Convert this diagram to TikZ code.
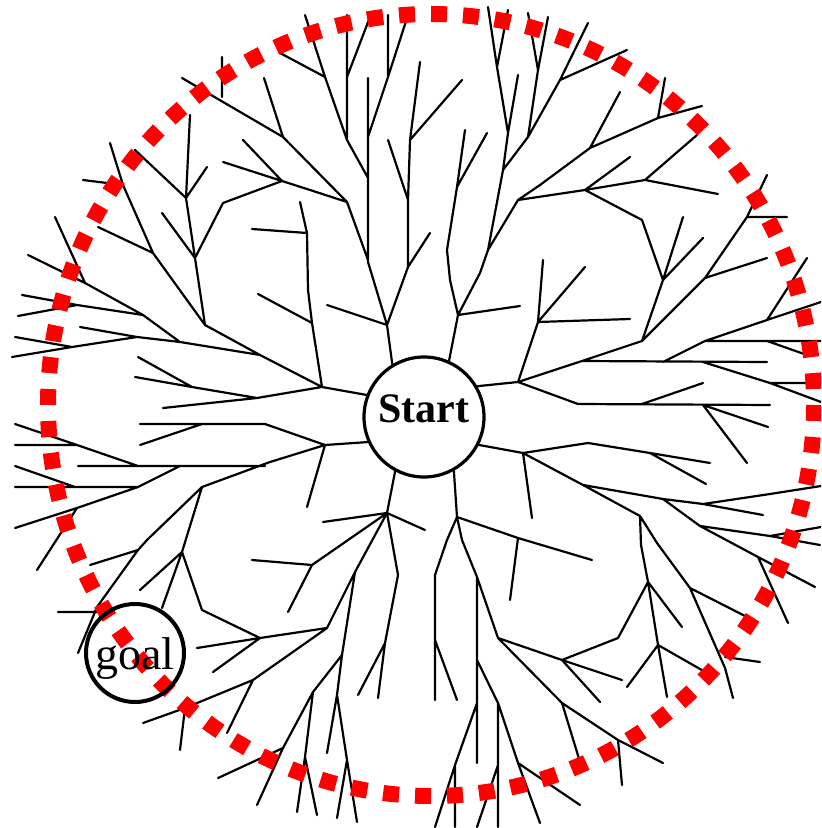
\documentclass[tikz,border=0pt]{standalone}
\usepackage{fontspec}
\setmainfont{Liberation Serif}

\begin{document}
\begin{tikzpicture}[x=0.5pt, y=-0.5pt,
  branch/.style={line width=1.1pt, line cap=round, line join=round},
  startnode/.style={circle, draw, line width=1.6pt, fill=white, minimum size=60pt,
                    inner sep=0pt, font=\fontsize{21pt}{21pt}\selectfont\bfseries},
  goalnode/.style={circle, draw, line width=2pt, minimum size=49pt,
                   inner sep=0pt, font=\fontsize{23pt}{23pt}\selectfont},
  bound/.style={red, line width=8pt, dash pattern=on 8pt off 8pt}
]
  \useasboundingbox (0,0) rectangle (821,828);
  \clip (0,0) rectangle (821,828);

  \node[startnode] (start) at (424,417) {\raisebox{4pt}[\height][\depth]{Start}};

  % upper left
  \draw[branch] (start.121) -- (387,325) -- (368,262) -- (368,78)
    (387,325) -- (327,305)
    (387,325) -- (408,267) -- (408,200) -- (410,140) -- (420,62)
    (408,267) -- (430,233)
    (410,140) -- (462,80)
    (388,140) -- (408,200)
    (368,137) -- (388,77) -- (388,15)
    (388,77) -- (408,15)
    (368,178) -- (347,140) -- (347,15)
    (347,77) -- (370,17)
    (347,140) -- (325,77) -- (305,15)
    (325,77) -- (280,53)
    (368,260) -- (347,202) -- (310,190) -- (282,181) -- (223,203) -- (195,258)
    (282,181) -- (223,162)
    (282,181) -- (243,140)
    (347,202) -- (283,137) -- (182,78)
    (283,137) -- (264,78)
    (222,97) -- (222,57)
    (190,115) -- (186,198) -- (195,258) -- (205,325)
    (186,198) -- (135,150)
    (186,198) -- (207,167)
    (195,258) -- (162,213);

  % upper right
  \draw[branch] (start.66) -- (458,315) -- (520,306)
    (458,315) -- (450,280) -- (447,250) -- (457,187) -- (465,130)
    (457,187) -- (487,133)
    (458,315) -- (480,273) -- (488,250) -- (503,170) -- (508,133) -- (497,67) -- (488,7)
    (497,67) -- (508,10)
    (508,133) -- (518,75)
    (503,170) -- (528,137) -- (560,80) -- (588,23)
    (560,80) -- (627,50)
    (528,137) -- (538,70) -- (528,13)
    (538,70) -- (548,17)
    (488,250) -- (518,200) -- (540,185) -- (590,148) -- (658,118) -- (702,106)
    (590,148) -- (620,92)
    (658,118) -- (665,78)
    (518,200) -- (585,190) -- (645,180) -- (697,135)
    (645,180) -- (718,194)
    (585,190) -- (630,157)
    (585,190) -- (642,220) -- (663,280);

  % right, upper half
  \draw[branch] (start.30) -- (518,382) -- (538,322) -- (543,260)
    (538,322) -- (585,267)
    (538,322) -- (630,319)
    (518,382) -- (582,361) -- (642,341) -- (663,280) -- (683,217)
    (663,280) -- (703,238)
    (642,341) -- (705,278) -- (747,217) -- (767,175)
    (747,217) -- (787,217)
    (705,278) -- (767,258)
    (582,361) -- (767,362)
    (663,362) -- (705,341) -- (767,320) -- (821,302)
    (705,341) -- (821,341)
    (767,341) -- (807,355)
    (767,320) -- (807,258)
    (703,362) -- (770,383) -- (821,402)
    (770,383) -- (821,383)
    (518,382) -- (578,404) -- (770,405)
    (642,404) -- (703,383)
    (703,405) -- (768,427)
    (703,405) -- (747,463);

  % right, lower half
  \draw[branch] (start.333) -- (523,453) -- (532,518)
    (523,453) -- (588,443) -- (650,453) -- (710,463)
    (650,453) -- (706,484)
    (523,453) -- (583,485) -- (640,516) -- (641,545) -- (648,582) -- (658,645) -- (667,697)
    (648,582) -- (618,638) -- (562,660)
    (648,582) -- (682,627)
    (658,645) -- (627,687)
    (658,645) -- (707,673)
    (640,516) -- (657,543) -- (690,588) -- (725,668) -- (733,698)
    (690,588) -- (747,617)
    (725,657) -- (760,662)
    (583,485) -- (663,499) -- (703,504) -- (770,494) -- (821,486)
    (703,504) -- (763,515)
    (663,499) -- (700,526) -- (770,536) -- (821,527)
    (770,536) -- (820,545)
    (700,526) -- (758,557) -- (815,587)
    (758,557) -- (788,623);

  % lower right
  \draw[branch] (start.299) -- (457,517) -- (518,538) -- (592,560)
    (518,538) -- (510,600)
    (457,517) -- (447,540) -- (435,575) -- (435,700)
    (435,640) -- (457,700)
    (457,517) -- (462,540) -- (477,577) -- (477,763)
    (477,577) -- (498,638) -- (562,660) -- (622,680)
    (562,660) -- (600,702)
    (498,638) -- (562,703) -- (618,740) -- (663,763)
    (562,703) -- (580,762)
    (618,740) -- (622,785)
    (477,660) -- (498,703) -- (498,827)
    (477,703) -- (455,765) -- (435,827)
    (455,765) -- (455,827)
    (498,703) -- (518,763) -- (540,823)
    (498,765) -- (477,827)
    (518,763) -- (580,805);

  % lower left
  \draw[branch] (start.242) -- (387,513) -- (323,522)
    (387,513) -- (425,530)
    (387,513) -- (312,565) -- (252,560)
    (312,565) -- (288,612)
    (387,513) -- (355,572) -- (327,628) -- (260,638) -- (197,648)
    (260,638) -- (213,672)
    (260,638) -- (202,610) -- (182,552)
    (327,628) -- (253,680) -- (185,708) -- (143,723)
    (185,708) -- (180,750)
    (253,680) -- (227,733)
    (355,572) -- (342,655) -- (337,695) -- (347,760) -- (357,822)
    (342,655) -- (313,692) -- (283,748) -- (218,778)
    (283,748) -- (257,805)
    (313,692) -- (305,757) -- (297,812)
    (305,757) -- (317,815)
    (337,695) -- (327,753)
    (347,760) -- (337,818)
    (387,513) -- (398,575) -- (385,643) -- (378,698)
    (385,643) -- (358,695);

  % left, lower half
  \draw[branch] (start.204) -- (325,445) -- (307,507)
    (325,445) -- (265,424) -- (140,424)
    (202,424) -- (140,445)
    (325,445) -- (270,462) -- (202,487) -- (147,540) -- (138,550) -- (97,607) -- (78,653)
    (138,550) -- (90,565)
    (97,612) -- (58,612)
    (202,487) -- (182,552) -- (140,590)
    (182,552) -- (162,608)
    (265,466) -- (78,466)
    (180,466) -- (138,487) -- (15,487)
    (75,487) -- (15,466)
    (138,487) -- (77,508) -- (15,528)
    (77,508) -- (37,570)
    (138,466) -- (77,445) -- (15,424)
    (77,445) -- (15,445);

  % left, upper half
  \draw[branch] (start.159) -- (322,387) -- (312,323) -- (308,290) -- (307,233) -- (300,202)
    (307,233) -- (252,229)
    (312,323) -- (258,294)
    (322,387) -- (257,398) -- (192,387) -- (138,357)
    (192,387) -- (135,377)
    (257,398) -- (163,408)
    (322,387) -- (260,355) -- (205,325) -- (153,253) -- (123,185) -- (110,143)
    (123,185) -- (83,180)
    (153,253) -- (98,227)
    (260,355) -- (180,342) -- (143,315) -- (85,283) -- (28,255)
    (85,283) -- (55,217)
    (143,315) -- (77,305) -- (22,295)
    (77,305) -- (18,316)
    (180,342) -- (137,337) -- (80,327)
    (137,337) -- (72,347) -- (15,337)
    (72,347) -- (12,357);

  \draw[bound] (431,405) ellipse [x radius=383, y radius=391];

  \node[goalnode] (goal) at (135,653) {\raisebox{-2.5pt}[\height][\depth]{goal}};
\end{tikzpicture}
\end{document}
